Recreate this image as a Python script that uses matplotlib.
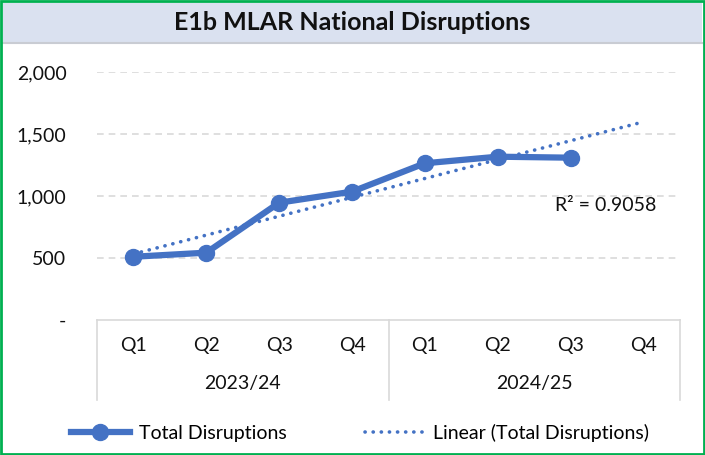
import matplotlib
matplotlib.use("Agg")
import matplotlib.pyplot as plt
from matplotlib.patches import Rectangle
from matplotlib.lines import Line2D
import numpy as np

plt.rcParams['font.family'] = ['Lato', 'DejaVu Sans']

quarters = ["Q1", "Q2", "Q3", "Q4", "Q1", "Q2", "Q3", "Q4"]
years = ["2023/24", "2024/25"]
total_disruptions = [510, 543, 946, 1035, 1264, 1317, 1309]
y_ticks = [0, 500, 1000, 1500, 2000]
y_tick_labels = ["-", "500", "1,000", "1,500", "2,000"]
title = "E1b MLAR National Disruptions"
r2_label = "R\u00b2 = 0.9058"

BLUE = "#4472C4"
GRID = "#D9D9D9"
DOT = (0, (0.05, 2.2))

W, H = 705, 455
fig = plt.figure(figsize=(W / 100, H / 100), dpi=100)

def fx(px):
    return px / W

def fy(py):
    return 1 - py / H

# title band
fig.patches.append(Rectangle((fx(3), fy(43)), fx(699), 40 / H, transform=fig.transFigure,
                             facecolor="#DAE1F0", edgecolor="none", zorder=0))
fig.lines.append(Line2D([fx(3), fx(702)], [fy(43), fy(43)], transform=fig.transFigure,
                        color="#C9CCD3", lw=1.5))
fig.text(0.5, fy(23), title, ha="center", va="center", fontsize=18, fontweight="bold",
         color="#111111")

# green border
fig.patches.append(Rectangle((fx(1), fy(454)), fx(703), 453 / H, transform=fig.transFigure,
                             facecolor="none", edgecolor="#00B050", lw=2, zorder=10))

ax = fig.add_axes([fx(97), fy(320), fx(583), 248 / H])
x = np.arange(len(total_disruptions))
ax.set_xlim(-0.5, len(quarters) - 0.5)
ax.set_ylim(0, 2000)

for v in y_ticks[1:]:
    ax.axhline(v, color=GRID, lw=1.2, ls=(0, (4, 3)), zorder=0)

ax.plot(x, total_disruptions, color=BLUE, lw=4.5, marker="o", markersize=11.5,
        solid_capstyle="round", zorder=3)

# linear trend
coef = np.polyfit(x, total_disruptions, 1)
xt = np.arange(len(quarters))
ax.plot(xt, np.polyval(coef, xt), color=BLUE, lw=2.6, ls=DOT,
        dash_capstyle="round", zorder=2)

ax.text(5.78, 925, r2_label, fontsize=14, va="center", ha="left", color="#111111")

for s in ["top", "right", "left"]:
    ax.spines[s].set_visible(False)
ax.spines["bottom"].set_color(GRID)
ax.spines["bottom"].set_linewidth(1.2)

ax.set_yticks(y_ticks)
ax.set_yticklabels(y_tick_labels, fontsize=14, color="#111111")
ax.tick_params(axis="y", length=0, pad=22)
ax.set_xticks([])

trans = ax.get_xaxis_transform()
for xv in [-0.5, 3.5, 7.5]:
    ax.plot([xv, xv], [0, -80 / 248], transform=trans, color=GRID, lw=1.2, clip_on=False)
for i, q in enumerate(quarters):
    ax.text(i, -26 / 248, q, transform=trans, ha="center", va="center", fontsize=14,
            color="#111111")
for j, yr in enumerate(years):
    ax.text(1.5 + 4 * j, -64 / 248, yr, transform=trans, ha="center", va="center",
            fontsize=14, color="#111111")

handles = [
    Line2D([], [], color=BLUE, lw=4.5, marker="o", markersize=11.5),
    Line2D([], [], color=BLUE, lw=2.6, ls=DOT, dash_capstyle="round"),
]
fig.legend(handles, ["Total Disruptions", "Linear (Total Disruptions)"], loc="center",
           bbox_to_anchor=(fx(360), fy(433)), ncol=2, frameon=False, fontsize=14,
           handlelength=3.0, handletextpad=0.5, columnspacing=4.0)

fig.savefig("out.png", dpi=100)
